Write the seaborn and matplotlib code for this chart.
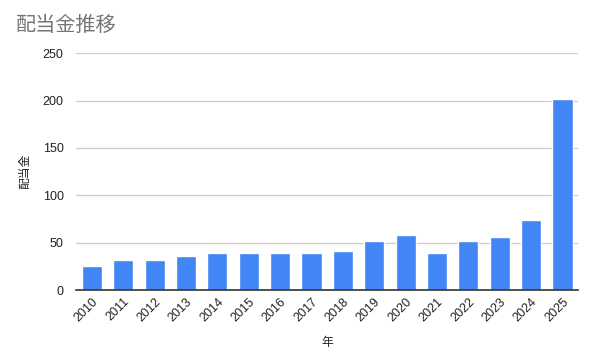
import matplotlib
matplotlib.use("Agg")
import matplotlib.pyplot as plt
import seaborn as sns
import pandas as pd

years = ["2010", "2011", "2012", "2013", "2014", "2015", "2016", "2017",
         "2018", "2019", "2020", "2021", "2022", "2023", "2024", "2025"]
dividends = [25, 32, 32, 36, 39, 39, 39, 39, 41, 52, 58, 39, 52, 56, 74, 202]
yticks = [0, 50, 100, 150, 200, 250]

sns.set_theme(style="white")
plt.rcParams['font.family'] = ['Noto Sans CJK JP', 'DejaVu Sans']

df = pd.DataFrame({"年": years, "配当金": dividends})

fig = plt.figure(figsize=(5.9, 3.64), dpi=100)
ax = fig.add_axes([0.129, 0.203, 0.851, 0.651])
sns.barplot(data=df, x="年", y="配当金", color="#4285F4", width=0.64,
            saturation=1, ax=ax, zorder=3)

lab_family = ['Arial', 'Liberation Sans', 'DejaVu Sans']
ax.set_ylim(0, 250)
ax.set_yticks(yticks)
ax.set_yticklabels([str(v) for v in yticks], fontsize=9, color="#222222",
                   family=lab_family)
ax.grid(axis="y", color="#cccccc", linewidth=0.9, zorder=0)
ax.grid(axis="x", visible=False)
for s in ["top", "right", "left"]:
    ax.spines[s].set_visible(False)
ax.spines["bottom"].set_color("#333333")
ax.spines["bottom"].set_linewidth(1.2)
ax.spines["bottom"].set_zorder(4)
ax.tick_params(axis="y", length=0, pad=9)
ax.tick_params(axis="x", length=0, pad=4)
ax.set_xticks(range(len(years)))
ax.set_xticklabels(years, rotation=45, ha="right", rotation_mode="anchor",
                   fontsize=9, color="#222222", family=lab_family)
ax.set_xlabel("年", fontsize=8.5, color="#222222", labelpad=9)
ax.set_ylabel("配当金", fontsize=8.5, color="#222222", labelpad=8)

fig.text(0.027, 0.931, "配当金推移", fontsize=14.5, color="#757575", ha="left", va="center")

fig.savefig("out.png", dpi=100, facecolor="white")
